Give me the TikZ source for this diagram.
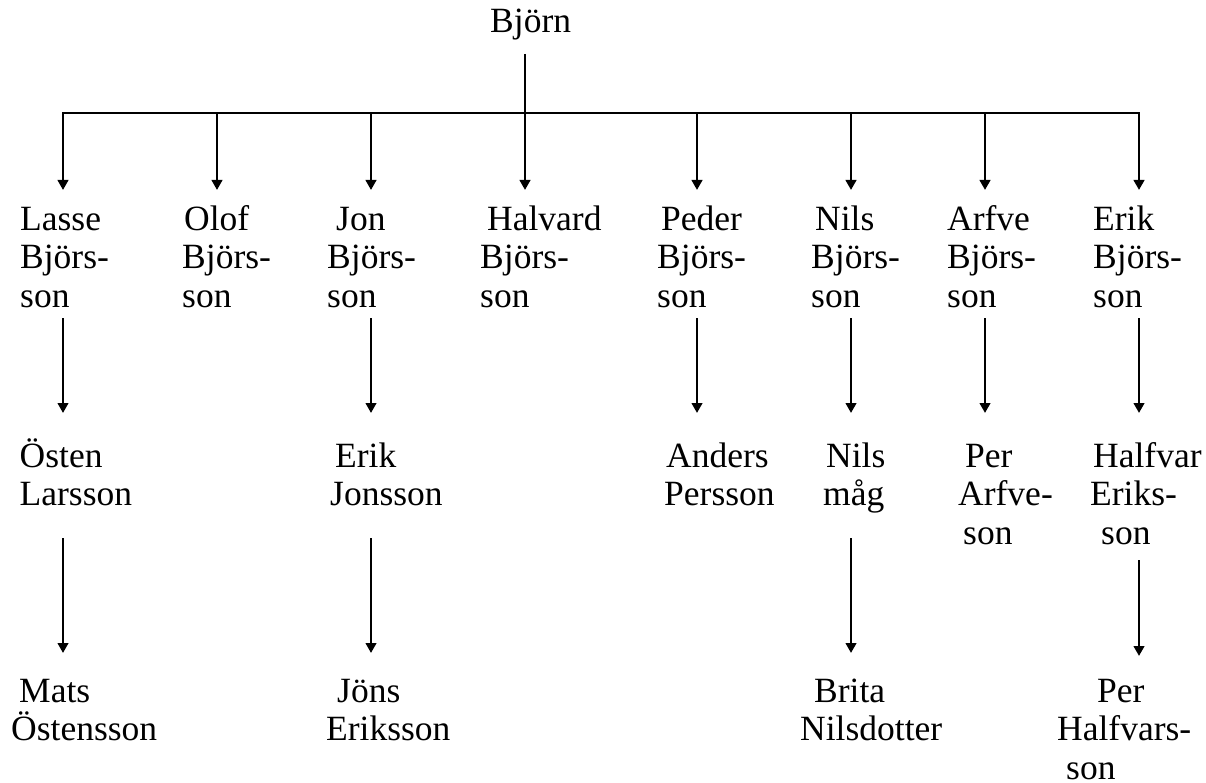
\documentclass[tikz,border=0pt]{standalone}
\usepackage{fontspec}
\setmainfont{Liberation Serif}
\usetikzlibrary{arrows.meta}
\begin{document}
\begin{tikzpicture}[x=1pt,y=-1pt,
  person/.style={anchor=base west,inner sep=0pt,align=left,font=\fontsize{35.5}{38.5}\selectfont},
  link/.style={line width=2.5pt},
  arr/.style={line width=2.5pt,-{Triangle[length=10pt,width=10.5pt]}}]
\useasboundingbox (0,0) rectangle (1206,783);
% ---- names (anchored at the baseline of the last line) ----
\node[person] (bjorn) at (490,33) {Björn};
\node[person] (lasse) at (20,307) {Lasse\\Björs-\\son};
\node[person] (olof) at (182,307) {\hspace{2pt}Olof\\Björs-\\son};
\node[person] (jon) at (327,307) {\hspace{9pt}Jon\\Björs-\\son};
\node[person] (halvard) at (480,307) {\hspace{7pt}Halvard\\Björs-\\son};
\node[person] (peder) at (657,307) {\hspace{4pt}Peder\\Björs-\\son};
\node[person] (nils) at (811,307) {\hspace{4pt}Nils\\Björs-\\son};
\node[person] (arfve) at (947,307) {Arfve\\Björs-\\son};
\node[person] (erik) at (1093,307) {Erik\\Björs-\\son};
\node[person] (osten) at (19.5,505.5) {Östen\\Larsson};
\node[person] (erikj) at (330,505.5) {\hspace{5pt}Erik\\Jonsson};
\node[person] (anders) at (664,505.5) {\hspace{2pt}Anders\\Persson};
\node[person] (nilsm) at (823,505.5) {\hspace{3pt}Nils\\måg};
\node[person] (per) at (958,544) {\hspace{7pt}Per\\Arfve-\\\hspace{5pt}son};
\node[person] (halfvar) at (1090,544) {\hspace{3pt}Halfvar\\Eriks-\\\hspace{11pt}son};
\node[person] (mats) at (11,740.5) {\hspace{8pt}Mats\\Östensson};
\node[person] (jons) at (326,740.5) {\hspace{11pt}Jöns\\Eriksson};
\node[person] (brita) at (800,740.5) {\hspace{14pt}Brita\\Nilsdotter};
\node[person] (perh) at (1057,779) {\hspace{40pt}Per\\Halfvars-\\\hspace{9pt}son};
% ---- connector points ----
\coordinate (stem) at (525,54);
\coordinate (b1) at (63,113);   \coordinate (t1) at (63,190);
\coordinate (b2) at (217,113);  \coordinate (t2) at (217,190);
\coordinate (b3) at (371,113);  \coordinate (t3) at (371,190);
\coordinate (b4) at (525,113);  \coordinate (t4) at (525,190);
\coordinate (b5) at (697,113);  \coordinate (t5) at (697,190);
\coordinate (b6) at (851,113);  \coordinate (t6) at (851,190);
\coordinate (b7) at (985,113);  \coordinate (t7) at (985,190);
\coordinate (b8) at (1139,113); \coordinate (t8) at (1139,190);
% level 2
\coordinate (s1) at (63,318);   \coordinate (e1) at (63,413);
\coordinate (s3) at (371,318);  \coordinate (e3) at (371,413);
\coordinate (s5) at (697,318);  \coordinate (e5) at (697,413);
\coordinate (s6) at (851,318);  \coordinate (e6) at (851,413);
\coordinate (s7) at (985,318);  \coordinate (e7) at (985,413);
\coordinate (s8) at (1139,318); \coordinate (e8) at (1139,413);
% level 3
\coordinate (u1) at (63,538);   \coordinate (v1) at (63,653);
\coordinate (u3) at (371,538);  \coordinate (v3) at (371,653);
\coordinate (u6) at (851,538);  \coordinate (v6) at (851,653);
\coordinate (u8) at (1139,560); \coordinate (v8) at (1139,656);
% ---- connectors ----
\draw[link] (stem) -- (b4);
\draw[link,line cap=rect] (b1) -- (b8);
\foreach \i in {1,...,8} {\draw[arr] (b\i) -- (t\i);}
\foreach \i in {1,3,5,6,7,8} {\draw[arr] (s\i) -- (e\i);}
\foreach \i in {1,3,6,8} {\draw[arr] (u\i) -- (v\i);}
\end{tikzpicture}
\end{document}
